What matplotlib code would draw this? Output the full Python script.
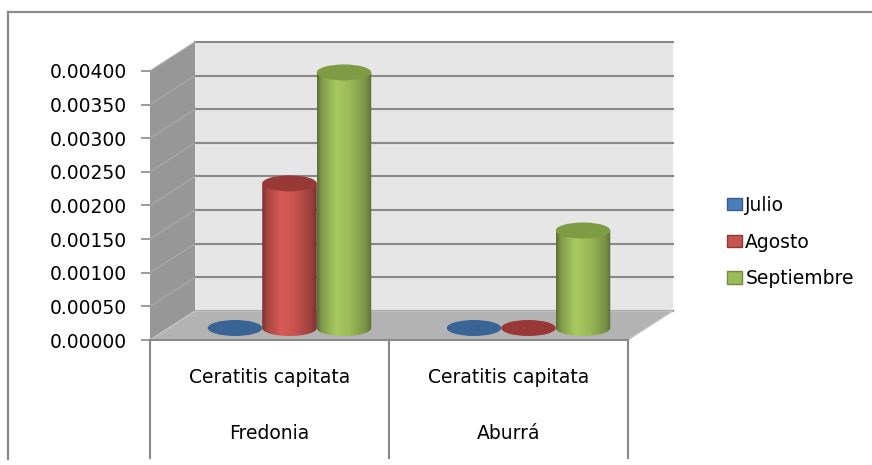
import numpy as np
import matplotlib
matplotlib.use("Agg")
import matplotlib.pyplot as plt
from matplotlib.patches import Polygon, Ellipse, Patch
from matplotlib.path import Path
from matplotlib.lines import Line2D
from matplotlib.colors import to_rgb

# data
regions = ["Fredonia", "Aburrá"]
species = ["Ceratitis capitata", "Ceratitis capitata"]
series = ["Julio", "Agosto", "Septiembre"]
values = {
    "Julio": [0.0, 0.0],
    "Agosto": [0.00215, 0.0],
    "Septiembre": [0.00380, 0.00145],
}
yticks = [0.0, 0.0005, 0.0010, 0.0015, 0.0020, 0.0025, 0.0030, 0.0035, 0.0040]

base_colors = {"Julio": "#4a7ebb", "Agosto": "#c8534f", "Septiembre": "#9bbb59"}
top_colors = {"Julio": "#3a6396", "Agosto": "#993937", "Septiembre": "#7e9c44"}
legend_edge = {"Julio": "#385d8a", "Agosto": "#8c3836", "Septiembre": "#71893f"}

W, H = 872, 465
fig = plt.figure(figsize=(W / 100, H / 100), dpi=100)
fig.patch.set_facecolor("white")

# front plane: x 0..2 (two categories), y 0..0.004
px_x = 2 / 478          # data units per pixel, x
px_y = 0.004 / 269      # data units per pixel, y
ax = fig.add_axes([150 / W, (H - 340) / H, 530 / W, 300 / H])
XMAX, YMAX = 530 * px_x, 300 * px_y
DX, DY = 45 * px_x, 29 * px_y   # depth offset of the back wall

grid_c = "#898989"
fs = 13.5

# side wall, back wall, floor
ax.add_patch(Polygon([(0, 0), (DX, DY), (DX, yticks[-1] + DY), (0, yticks[-1])],
                     closed=True, facecolor="#979797", edgecolor="none", zorder=1))
ax.add_patch(Polygon([(DX, DY), (2 + DX, DY), (2 + DX, yticks[-1] + DY), (DX, yticks[-1] + DY)],
                     closed=True, facecolor="#e6e6e6", edgecolor="none", zorder=1))
for v in yticks:
    ax.plot([DX, 2 + DX], [v + DY, v + DY], color=grid_c, lw=1.5, zorder=1.5)
    ax.plot([0, DX], [v, v + DY], color="#a9a9a9", lw=0.9, zorder=1.5)
ax.add_patch(Polygon([(0, 0), (2, 0), (2 + DX, DY), (DX, DY)],
                     closed=True, facecolor="#b3b3b3", edgecolor="#c8c8c8", lw=0.8, zorder=2))

# category axis: front edge and dividers
ax.plot([0, 2], [0, 0], color=grid_c, lw=1.5, zorder=2.5, clip_on=False)
for x in range(len(regions) + 1):
    ax.plot([x, x], [0, -118 * px_y], color=grid_c, lw=1.5, clip_on=False)
for i, (sp, reg) in enumerate(zip(species, regions)):
    ax.text(i + 0.5, -37 * px_y, sp, ha="center", va="center", fontsize=fs, clip_on=False)
    ax.text(i + 0.5, -93 * px_y, reg, ha="center", va="center", fontsize=fs, clip_on=False)


def shade(color, n=60):
    t = np.linspace(0, 1, n)
    f = np.interp(t, [0, 0.08, 0.35, 0.6, 0.9, 1], [0.6, 0.82, 1.08, 1.0, 0.78, 0.6])
    rgb = np.clip(np.outer(f, to_rgb(color)), 0, 1)
    return rgb[np.newaxis, :, :]


def cylinder(xc, y0, v, name, w, eh, z):
    x0, x1 = xc - w / 2, xc + w / 2
    y1 = y0 + v
    if v > 0:
        th = np.linspace(np.pi, 2 * np.pi, 40)
        arc = np.column_stack([xc + w / 2 * np.cos(th), y0 + eh / 2 * np.sin(th)])
        verts = np.vstack([[[x0, y1]], arc, [[x1, y1]], [[x0, y1]]])
        path = Path(verts, closed=True)
        im = ax.imshow(shade(base_colors[name]), extent=(x0, x1, y0 - eh / 2, y1),
                       aspect="auto", origin="lower", interpolation="bilinear", zorder=z)
        im.set_clip_path(path, transform=ax.transData)
    ax.add_patch(Ellipse((xc, y1), w, eh, facecolor=top_colors[name], edgecolor="none", zorder=z + 0.05))


bar_w = 0.228
eh = 16 * px_y
base = 12 * px_y
z = 3
for i in range(len(regions)):
    for j, name in enumerate(series):
        xc = i + 0.5 + (j - 1) * bar_w + 20 * px_x
        cylinder(xc, base, values[name][i], name, bar_w, eh, z)
        z += 0.1

# value axis
ax.set_xlim(0, XMAX)
ax.set_ylim(0, YMAX)
ax.set_yticks(yticks)
ax.set_yticklabels([f"{v:.5f}" for v in yticks])
ax.tick_params(axis="y", length=6.5, color=grid_c, width=1.2, pad=10, labelsize=fs)
ax.set_xticks([])
for s in ax.spines.values():
    s.set_visible(False)
ax.patch.set_visible(False)

# chart area border (top and left)
fig.add_artist(Line2D([8 / W, 1], [1 - 12 / H, 1 - 12 / H], color=grid_c, lw=1.6))
fig.add_artist(Line2D([8 / W, 8 / W], [1 - 12 / H, 6 / H], color=grid_c, lw=1.6))

handles = [Patch(facecolor=base_colors[n], edgecolor=legend_edge[n]) for n in series]
fig.legend(handles, series, loc="center left", bbox_to_anchor=(719 / W, 1 - 242 / H),
           frameon=False, fontsize=fs, handlelength=0.8, handleheight=0.65,
           handletextpad=0.2, labelspacing=0.95, borderaxespad=0)

plt.savefig("out.png", dpi=100)
